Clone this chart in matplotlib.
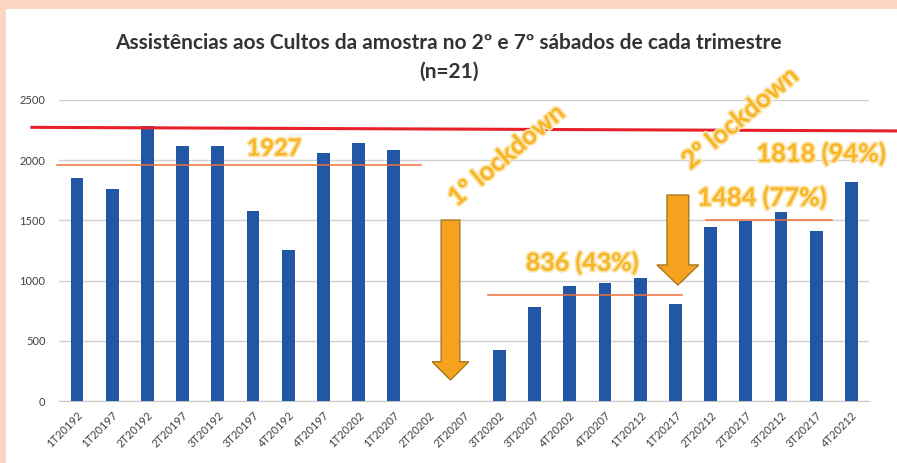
import matplotlib
matplotlib.use("Agg")
import matplotlib.pyplot as plt
import matplotlib.patheffects as pe
from matplotlib.patches import Polygon, Rectangle
from matplotlib.lines import Line2D

plt.rcParams['font.family'] = ['Lato', 'DejaVu Sans']

categories = ["1T20192", "1T20197", "2T20192", "2T20197", "3T20192", "3T20197",
              "4T20192", "4T20197", "1T20202", "1T20207", "2T20202", "2T20207",
              "3T20202", "3T20207", "4T20202", "4T20207", "1T20212", "1T20217",
              "2T20212", "2T20217", "3T20212", "3T20217", "4T20212"]
values = [1850, 1760, 2280, 2115, 2115, 1580, 1258, 2062, 2140, 2085, 0, 0,
          424, 781, 958, 980, 1024, 806, 1448, 1495, 1570, 1415, 1818]

title = "Assistências aos Cultos da amostra no 2º e 7º sábados de cada trimestre"
subtitle = "(n=21)"
period_labels = ["1927", "836 (43%)", "1484 (77%)", "1818 (94%)"]
lockdown_labels = ["1º lockdown", "2º lockdown"]

W, H = 897, 463
fig = plt.figure(figsize=(W / 100, H / 100), dpi=100)
fig.patch.set_facecolor('white')
peach = '#FAD6C2'
fig.patches.append(Rectangle((0, 1 - 9 / H), 1, 9 / H, transform=fig.transFigure,
                             facecolor=peach, edgecolor='none', zorder=0))
fig.patches.append(Rectangle((0, 0), 6 / W, 1, transform=fig.transFigure,
                             facecolor=peach, edgecolor='none', zorder=0))

ax = fig.add_axes([59.4 / W, 1 - 401 / H, (869 - 59.4) / W, (401 - 100) / H])
ax.set_facecolor('none')
x = list(range(len(categories)))
ax.bar(x, values, width=0.36, color='#2257A6', zorder=3)

ax.set_xlim(-0.5, 22.5)
ax.set_ylim(0, 2500)
ax.set_yticks([0, 500, 1000, 1500, 2000, 2500])
ax.yaxis.grid(True, color='#D0D0D0', linewidth=1, zorder=0)
ax.set_axisbelow(True)
for s in ['top', 'right', 'left']:
    ax.spines[s].set_visible(False)
ax.spines['bottom'].set_color('#C8C8C8')
ax.tick_params(axis='both', length=0, colors='#404040', labelsize=8)
ax.tick_params(axis='y', pad=10)
ax.set_xticks(x)
ax.set_xticklabels(categories, rotation=45, ha='right', rotation_mode='anchor')
ax.tick_params(axis='x', pad=6, labelsize=8)

# title
fig.text(0.5, 1 - 43 / H, title, ha='center', va='center', fontsize=15,
         fontweight='bold', color='#333333')
fig.text(0.5, 1 - 72 / H, subtitle, ha='center', va='center', fontsize=15,
         fontweight='bold', color='#333333')

# red reference line
ax.add_line(Line2D([-1.28, 23.4], [2273, 2243], color='#E8202A', linewidth=2.2,
                   clip_on=False, zorder=5))

# orange average lines
avg_col = '#F0703A'
ax.plot([-0.57, 9.77], [1958, 1958], color=avg_col, linewidth=1.1, zorder=4, clip_on=False)
ax.plot([11.68, 17.19], [880, 880], color=avg_col, linewidth=1.1, zorder=4)
ax.plot([17.87, 21.45], [1500, 1500], color=avg_col, linewidth=1.1, zorder=4)

gold = '#F7B52A'
eff = [pe.withStroke(linewidth=2.5, foreground='#FDE3A6')]
txt_kw = dict(color=gold, fontweight='bold', ha='center', va='center',
              path_effects=eff, zorder=6)
ax.text(5.6, 2101, period_labels[0], fontsize=17, **txt_kw)
ax.text(14.35, 1146, period_labels[1], fontsize=18, **txt_kw)
ax.text(19.46, 1686, period_labels[2], fontsize=18.3, **txt_kw)
ax.text(21.14, 2051, period_labels[3], fontsize=18.3, **txt_kw)
ax.text(12.2, 2043, lockdown_labels[0], fontsize=18.5, rotation=40, rotation_mode='anchor',
        **txt_kw)
ax.text(18.84, 2350, lockdown_labels[1], fontsize=18.5, rotation=40, rotation_mode='anchor',
        **txt_kw)

# arrows
def down_arrow(cx, shaft_w, head_w, top, head_y, tip):
    pts = [(cx - shaft_w / 2, top), (cx + shaft_w / 2, top), (cx + shaft_w / 2, head_y),
           (cx + head_w / 2, head_y), (cx, tip), (cx - head_w / 2, head_y),
           (cx - shaft_w / 2, head_y)]
    ax.add_patch(Polygon(pts, closed=True, facecolor='#F5A31F', edgecolor='#A8781E',
                         linewidth=1, zorder=6))

down_arrow(10.61, 0.53, 1.04, 1503, 326, 174)
down_arrow(17.07, 0.62, 1.19, 1711, 1130, 963)

fig.savefig('out.png', dpi=100)
